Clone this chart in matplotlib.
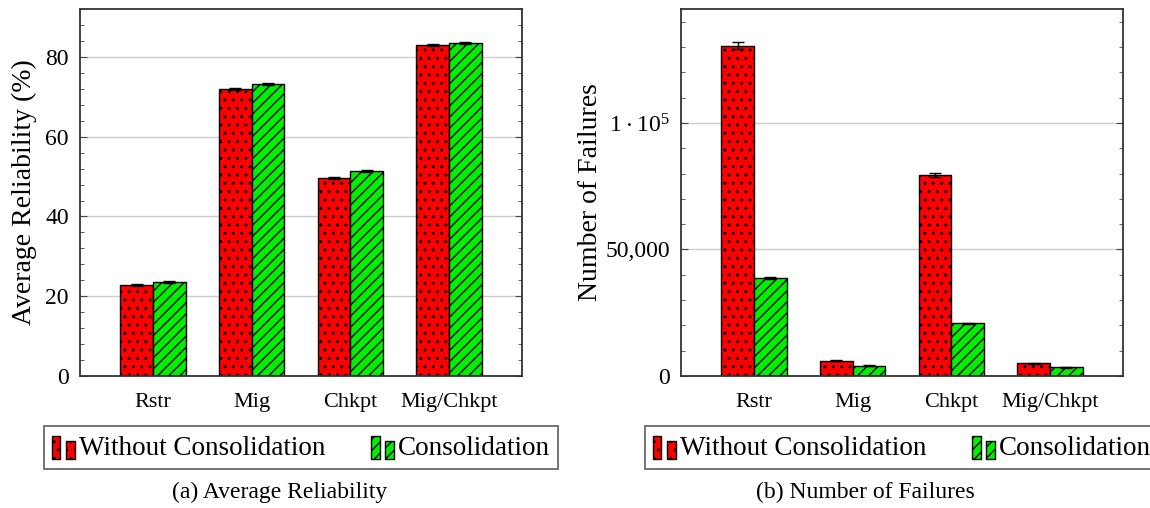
import matplotlib
matplotlib.use('Agg')
import matplotlib.pyplot as plt
import numpy as np
from matplotlib.ticker import MultipleLocator, FuncFormatter
from matplotlib.container import BarContainer
from matplotlib.legend_handler import HandlerBase
from matplotlib.patches import Rectangle

plt.rcParams['font.family'] = ['Liberation Serif', 'DejaVu Serif']
plt.rcParams['mathtext.fontset'] = 'custom'
plt.rcParams['mathtext.rm'] = 'Liberation Serif'
plt.rcParams['hatch.linewidth'] = 1.0

categories = ['Rstr', 'Mig', 'Chkpt', 'Mig/Chkpt']
series = ['Without Consolidation', 'Consolidation']

# (a) average reliability (%)
rel_without = [22.8, 71.9, 49.6, 83.0]
rel_with = [23.6, 73.2, 51.4, 83.5]
rel_err_without = [0.3, 0.2, 0.2, 0.2]
rel_err_with = [0.2, 0.2, 0.2, 0.2]

# (b) number of failures
fail_without = [130500, 6050, 79400, 5000]
fail_with = [38700, 4100, 20800, 3400]
fail_err_without = [1300, 150, 800, 150]
fail_err_with = [300, 100, 300, 100]

RED = '#ff0000'
GREEN = '#00ee00'


class TwoBars(HandlerBase):
    # pgfplots-like ybar legend icon: two small bars
    def create_artists(self, legend, orig_handle, xdescent, ydescent,
                       width, height, fontsize, trans):
        p = orig_handle.patches[0]
        bw = width * 0.38
        out = []
        for x0, h in [(0, height * 1.05), (width - bw, height * 0.8)]:
            r = Rectangle((x0 - xdescent, -ydescent - height * 0.1), bw, h,
                          facecolor=p.get_facecolor(), edgecolor='black',
                          linewidth=1.0, hatch=p.get_hatch())
            r.set_transform(trans)
            out.append(r)
        return out


def draw(ax, a, b, ea, eb):
    x = np.arange(len(categories))
    w = 0.33
    b1 = ax.bar(x - w / 2, a, w, color=RED, edgecolor='black', linewidth=1.0,
                hatch='..', zorder=2, label=series[0])
    b2 = ax.bar(x + w / 2, b, w, color=GREEN, edgecolor='black', linewidth=1.0,
                hatch='///', zorder=2, label=series[1])
    ax.errorbar(x - w / 2, a, yerr=ea, fmt='none', ecolor='black',
                elinewidth=1.0, capsize=4, zorder=3)
    ax.errorbar(x + w / 2, b, yerr=eb, fmt='none', ecolor='black',
                elinewidth=1.0, capsize=4, zorder=3)
    ax.set_xticks(x)
    ax.set_xticklabels(categories, fontsize=16)
    ax.set_xlim(-0.74, 3.74)
    ax.tick_params(axis='x', length=0, pad=12)
    ax.tick_params(axis='y', which='both', direction='in', left=True,
                   right=True, labelsize=17, colors='#444444',
                   labelcolor='black', pad=8)
    ax.tick_params(axis='y', which='major', length=5)
    ax.tick_params(axis='y', which='minor', length=3)
    ax.yaxis.grid(True, color='#cccccc', linewidth=1.0, zorder=0)
    ax.set_axisbelow(True)
    for s in ax.spines.values():
        s.set_linewidth(1.3)
        s.set_color('#333333')
    leg = ax.legend([b1, b2], series, loc='upper center',
                    bbox_to_anchor=(0.5, -0.1), ncol=2,
                    fontsize=19.5, frameon=True, fancybox=False,
                    edgecolor='#444444', handlelength=0.85, handleheight=0.9,
                    handletextpad=0.15, columnspacing=1.7, borderpad=0.3,
                    handler_map={BarContainer: TwoBars()})
    leg.get_frame().set_linewidth(1.3)


fig = plt.figure(figsize=(11.5, 5.08), dpi=100)
ax1 = fig.add_axes([0.0696, 0.2598, 0.3843, 0.7224])
ax2 = fig.add_axes([0.5922, 0.2598, 0.3843, 0.7224])

draw(ax1, rel_without, rel_with, rel_err_without, rel_err_with)
ax1.set_ylim(0, 92)
ax1.yaxis.set_major_locator(MultipleLocator(20))
ax1.yaxis.set_minor_locator(MultipleLocator(4))
ax1.set_ylabel('Average Reliability (%)', fontsize=20, labelpad=6)

draw(ax2, fail_without, fail_with, fail_err_without, fail_err_with)
ax2.set_ylim(0, 145000)
ax2.yaxis.set_major_locator(MultipleLocator(50000))
ax2.yaxis.set_minor_locator(MultipleLocator(10000))


def fmt(v, pos):
    if v == 0:
        return '0'
    if v >= 100000:
        return r'$\mathregular{1\cdot10^5}$'
    return '{:,.0f}'.format(v)


ax2.yaxis.set_major_formatter(FuncFormatter(fmt))
ax2.set_ylabel('Number of Failures', fontsize=20, labelpad=2)

fig.text(0.2435, 0.03, '(a) Average Reliability', ha='center', va='center',
         fontsize=17)
fig.text(0.7526, 0.03, '(b) Number of Failures', ha='center', va='center',
         fontsize=17)

fig.savefig('out.png', dpi=100)
